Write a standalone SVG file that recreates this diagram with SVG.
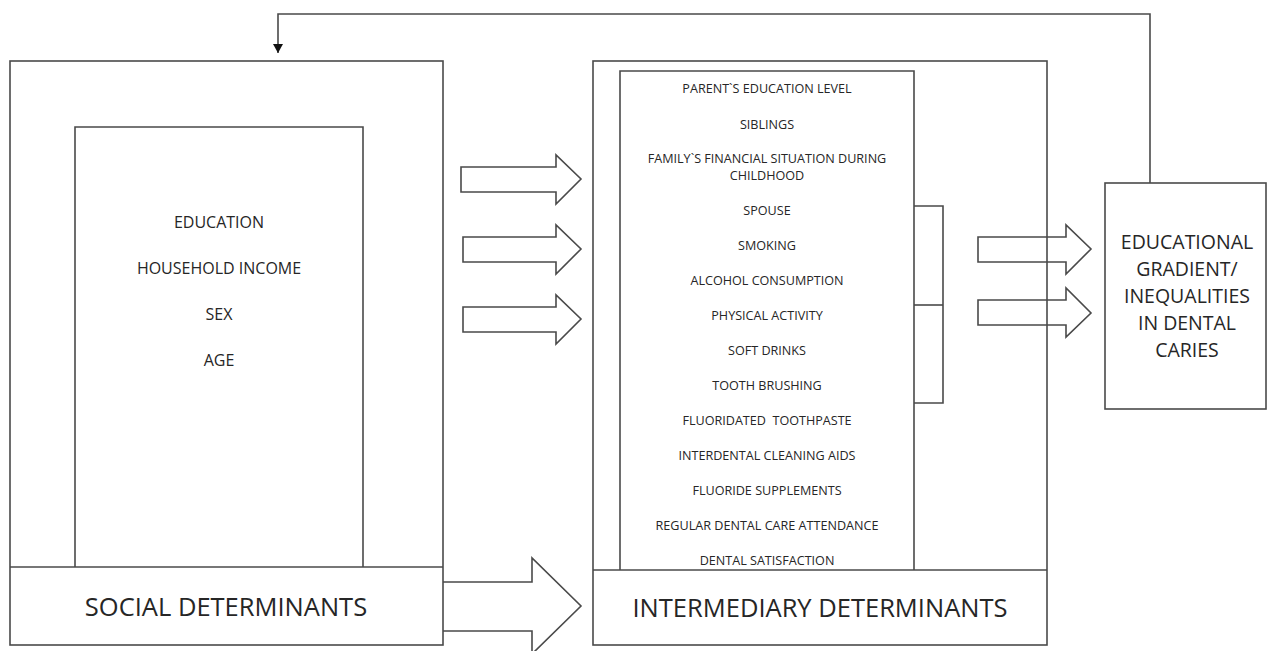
<svg xmlns="http://www.w3.org/2000/svg" width="1267" height="651" viewBox="0 0 1267 651">
<style>
.b{fill:none;stroke:#4a4a4a;stroke-width:1.6}
.a{fill:none;stroke:#4a4a4a;stroke-width:1.6;stroke-linejoin:miter}
text{font-family:"Open Sans","Liberation Sans",sans-serif;fill:#262626;text-anchor:middle}
.s{font-size:16px}
.l{font-size:12.6px}
.big{font-size:25.5px}
.r{font-size:19.5px}
</style>
<defs>
<marker id="ah" markerWidth="10" markerHeight="10" refX="9" refY="5" orient="auto" markerUnits="userSpaceOnUse" viewBox="0 0 10 10">
<path d="M0,0 L9,5 L0,10 Z" fill="#111"/>
</marker>
</defs>
<rect width="1267" height="651" fill="#fff"/>
<g id="social">
<rect class="b" x="10" y="61" width="433" height="584"/>
<line class="b" x1="10" y1="567" x2="443" y2="567"/>
<text class="big" x="226" y="616">SOCIAL DETERMINANTS</text>
</g>
<g id="social-list">
<polyline class="b" points="75,567 75,127 363,127 363,567"/>
<text class="s" x="219" y="228">EDUCATION</text>
<text class="s" x="219" y="274">HOUSEHOLD INCOME</text>
<text class="s" x="219" y="320">SEX</text>
<text class="s" x="219" y="366">AGE</text>
</g>
<g id="intermediary">
<rect class="b" x="593" y="61" width="454" height="584"/>
<line class="b" x1="593" y1="570" x2="1047" y2="570"/>
<text class="big" x="820" y="617">INTERMEDIARY DETERMINANTS</text>
</g>
<g id="intermediary-list">
<polyline class="b" points="620,570 620,71 914,71 914,570"/>
<text class="l" x="767" y="93">PARENT`S EDUCATION LEVEL</text>
<text class="l" x="767" y="129">SIBLINGS</text>
<text class="l" x="767" y="163">FAMILY`S FINANCIAL SITUATION DURING</text>
<text class="l" x="767" y="180">CHILDHOOD</text>
<text class="l" x="767" y="215">SPOUSE</text>
<text class="l" x="767" y="250">SMOKING</text>
<text class="l" x="767" y="285">ALCOHOL CONSUMPTION</text>
<text class="l" x="767" y="320">PHYSICAL ACTIVITY</text>
<text class="l" x="767" y="355">SOFT DRINKS</text>
<text class="l" x="767" y="390">TOOTH BRUSHING</text>
<text class="l" x="767" y="425" xml:space="preserve">FLUORIDATED  TOOTHPASTE</text>
<text class="l" x="767" y="460">INTERDENTAL CLEANING AIDS</text>
<text class="l" x="767" y="495">FLUORIDE SUPPLEMENTS</text>
<text class="l" x="767" y="530">REGULAR DENTAL CARE ATTENDANCE</text>
<text class="l" x="767" y="565">DENTAL SATISFACTION</text>
</g>
<g id="bracket">
<polyline class="b" points="914,206 943,206 943,403 914,403"/>
<line class="b" x1="914" y1="305" x2="943" y2="305"/>
</g>
<g id="outcome">
<rect class="b" x="1105" y="183" width="161" height="226"/>
<text class="r" x="1187" y="249">EDUCATIONAL</text>
<text class="r" x="1187" y="276">GRADIENT/</text>
<text class="r" x="1187" y="303">INEQUALITIES</text>
<text class="r" x="1187" y="330">IN DENTAL</text>
<text class="r" x="1187" y="357">CARIES</text>
</g>
<g id="connectors">
<polygon class="a" points="461,167 556,167 556,155 581,179 556,204 556,192 461,192"/>
<polygon class="a" points="463,237 556,237 556,225 581,249 556,274 556,262 463,262"/>
<polygon class="a" points="463,307 556,307 556,295 581,319 556,344 556,332 463,332"/>
<polyline class="a" points="443,582 532,582 532,558 581,606 532,654 532,631 443,631"/>
<polygon class="a" points="978,237 1066,237 1066,225 1091,249 1066,274 1066,262 978,262"/>
<polygon class="a" points="978,300 1066,300 1066,288 1091,313 1066,337 1066,325 978,325"/>
<polyline class="b" points="1150,183 1150,14 278,14 278,53" marker-end="url(#ah)"/>
</g>
</svg>
